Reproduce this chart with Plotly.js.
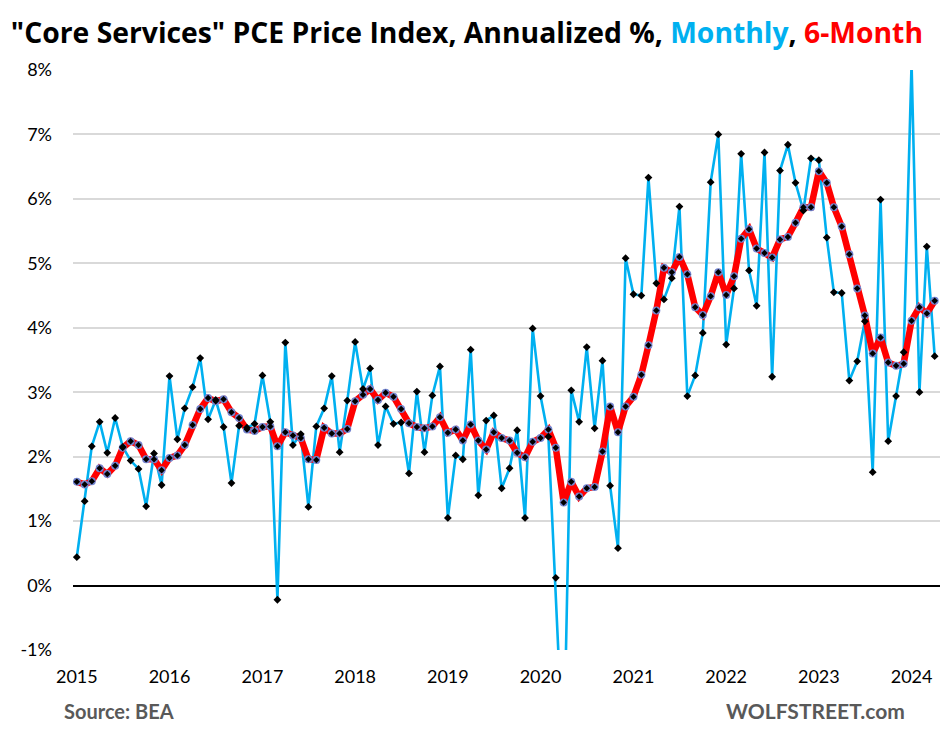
<!DOCTYPE html>
<html>
<head>
<meta charset="utf-8">
<script src="https://cdn.plot.ly/plotly-3.0.1.min.js"></script>
<style>
html,body{margin:0;padding:0;background:#fff;}
#chart{width:949px;height:731px;}
</style>
</head>
<body>
<div id="chart"></div>
<script>
// First month of the series (Jan 2015), one value per month through Apr 2024
const startYear = 2015;
const startMonth = 1;

// Monthly change, annualized %
const monthly = [
  0.44, 1.31, 2.16, 2.54, 2.06, 2.60, 2.15, 1.94, 1.81, 1.23, 2.05, 1.56,
  3.25, 2.27, 2.75, 3.08, 3.53, 2.58, 2.88, 2.46, 1.59, 2.48, 2.45, 2.51,
  3.26, 2.54, -0.22, 3.77, 2.18, 2.35, 1.22, 2.47, 2.75, 3.25, 2.07, 2.87,
  3.78, 3.05, 3.37, 2.18, 2.78, 2.51, 2.53, 1.74, 3.01, 2.07, 2.95, 3.40,
  1.05, 2.02, 1.96, 3.66, 1.40, 2.56, 2.64, 1.51, 1.82, 2.41, 1.05, 3.99,
  2.94, 2.31, 0.12, -2.80, 3.03, 2.54, 3.70, 2.44, 3.49, 1.55, 0.58, 5.08,
  4.52, 4.50, 6.33, 4.69, 4.44, 4.77, 5.88, 2.94, 3.26, 3.92, 6.26, 7.00,
  3.74, 4.61, 6.70, 4.89, 4.34, 6.72, 3.24, 6.44, 6.84, 6.25, 5.82, 6.63,
  6.60, 5.40, 4.55, 4.54, 3.18, 3.48, 4.10, 1.76, 5.99, 2.24, 2.94, 3.62,
  8.10, 3.00, 5.26, 3.56
];

// 6-month change, annualized %
const sixMonth = [
  1.61, 1.57, 1.62, 1.82, 1.73, 1.86, 2.14, 2.24, 2.18, 1.96, 1.96, 1.79,
  1.98, 2.02, 2.18, 2.49, 2.74, 2.91, 2.86, 2.89, 2.69, 2.60, 2.42, 2.40,
  2.46, 2.47, 2.16, 2.38, 2.33, 2.29, 1.96, 1.95, 2.45, 2.36, 2.36, 2.43,
  2.86, 2.96, 3.05, 2.88, 2.99, 2.93, 2.74, 2.52, 2.46, 2.44, 2.47, 2.61,
  2.37, 2.42, 2.25, 2.50, 2.25, 2.11, 2.38, 2.29, 2.25, 2.06, 1.99, 2.23,
  2.29, 2.42, 2.14, 1.29, 1.61, 1.38, 1.51, 1.53, 2.08, 2.78, 2.38, 2.78,
  2.93, 3.27, 3.73, 4.27, 4.93, 4.86, 5.10, 4.83, 4.32, 4.20, 4.49, 4.86,
  4.51, 4.80, 5.38, 5.53, 5.23, 5.16, 5.09, 5.37, 5.41, 5.63, 5.87, 5.87,
  6.43, 6.25, 5.87, 5.57, 5.14, 4.61, 4.19, 3.60, 3.85, 3.46, 3.41, 3.44,
  4.11, 4.32, 4.22, 4.42
];

const yTickVals = [-1, 0, 1, 2, 3, 4, 5, 6, 7, 8];
const yTickText = ["-1%", "0%", "1%", "2%", "3%", "4%", "5%", "6%", "7%", "8%"];

// month labels
const months = [];
for (let i = 0; i < monthly.length; i++) {
  const m = startMonth - 1 + i;
  const y = startYear + Math.floor(m / 12);
  const mm = (m % 12) + 1;
  months.push(y + "-" + (mm < 10 ? "0" + mm : mm) + "-01");
}

const FONT = "Lato, 'Open Sans', sans-serif";
const TFONT = "'Open Sans', Lato, sans-serif";

const traces = [
  {
    x: months, y: monthly, type: "scatter", mode: "lines",
    line: {color: "#00b0f0", width: 2.6},
    hoverinfo: "skip", cliponaxis: true
  },
  {
    x: months, y: sixMonth, type: "scatter", mode: "lines+markers",
    line: {color: "#ff0000", width: 6.5},
    marker: {symbol: "circle", size: 8, color: "#7384cf", line: {width: 0}},
    hoverinfo: "skip"
  },
  {
    x: months, y: sixMonth, type: "scatter", mode: "markers",
    marker: {symbol: "diamond", size: 5, color: "#000000", line: {width: 0}},
    hoverinfo: "skip"
  },
  {
    x: months, y: monthly, type: "scatter", mode: "markers",
    marker: {symbol: "diamond", size: 6, color: "#000000", line: {width: 0}},
    hoverinfo: "skip", cliponaxis: true
  }
];

const layout = {
  width: 949, height: 731,
  paper_bgcolor: "#ffffff", plot_bgcolor: "#ffffff",
  showlegend: false,
  margin: {l: 73, r: 9, t: 70, b: 81, pad: 0},
  title: {
    text: '"Core Services" PCE Price Index, Annualized %, <span style="color:#00b0f0">Monthly</span>, <span style="color:#ff0000">6-Month</span>',
    font: {family: TFONT, size: 28.3, color: "#000000", weight: 700},
    x: 0.492, xanchor: "center", xref: "container",
    y: 0.955, yanchor: "middle", yref: "container"
  },
  xaxis: {
    type: "date",
    range: ["2014-12-17", "2024-04-22"],
    tickmode: "linear", tick0: "2015-01-01", dtick: "M12",
    tickformat: "%Y",
    showgrid: false, zeroline: false, showline: false,
    ticks: "",
    ticklabelstandoff: 14,
    tickfont: {family: FONT, size: 18, color: "#000000"}
  },
  yaxis: {
    range: [-1, 8],
    tickvals: yTickVals, ticktext: yTickText,
    showgrid: true, gridcolor: "#d9d9d9", gridwidth: 2,
    zeroline: true, zerolinecolor: "#000000", zerolinewidth: 2,
    showline: false, ticks: "",
    ticklabelstandoff: 20,
    tickfont: {family: FONT, size: 18, color: "#000000"}
  },
  annotations: [
    {
      text: "<b>Source: BEA</b>", xref: "paper", yref: "paper",
      x: -0.013, y: -0.105, xanchor: "left", yanchor: "middle", showarrow: false,
      font: {family: FONT, size: 20, color: "#595959"}
    },
    {
      text: "<b>WOLFSTREET.com</b>", xref: "paper", yref: "paper",
      x: 0.9625, y: -0.105, xanchor: "right", yanchor: "middle", showarrow: false,
      font: {family: FONT, size: 21, color: "#595959"}
    }
  ]
};

Plotly.newPlot("chart", traces, layout, {displayModeBar: false, staticPlot: true});
</script>
</body>
</html>
